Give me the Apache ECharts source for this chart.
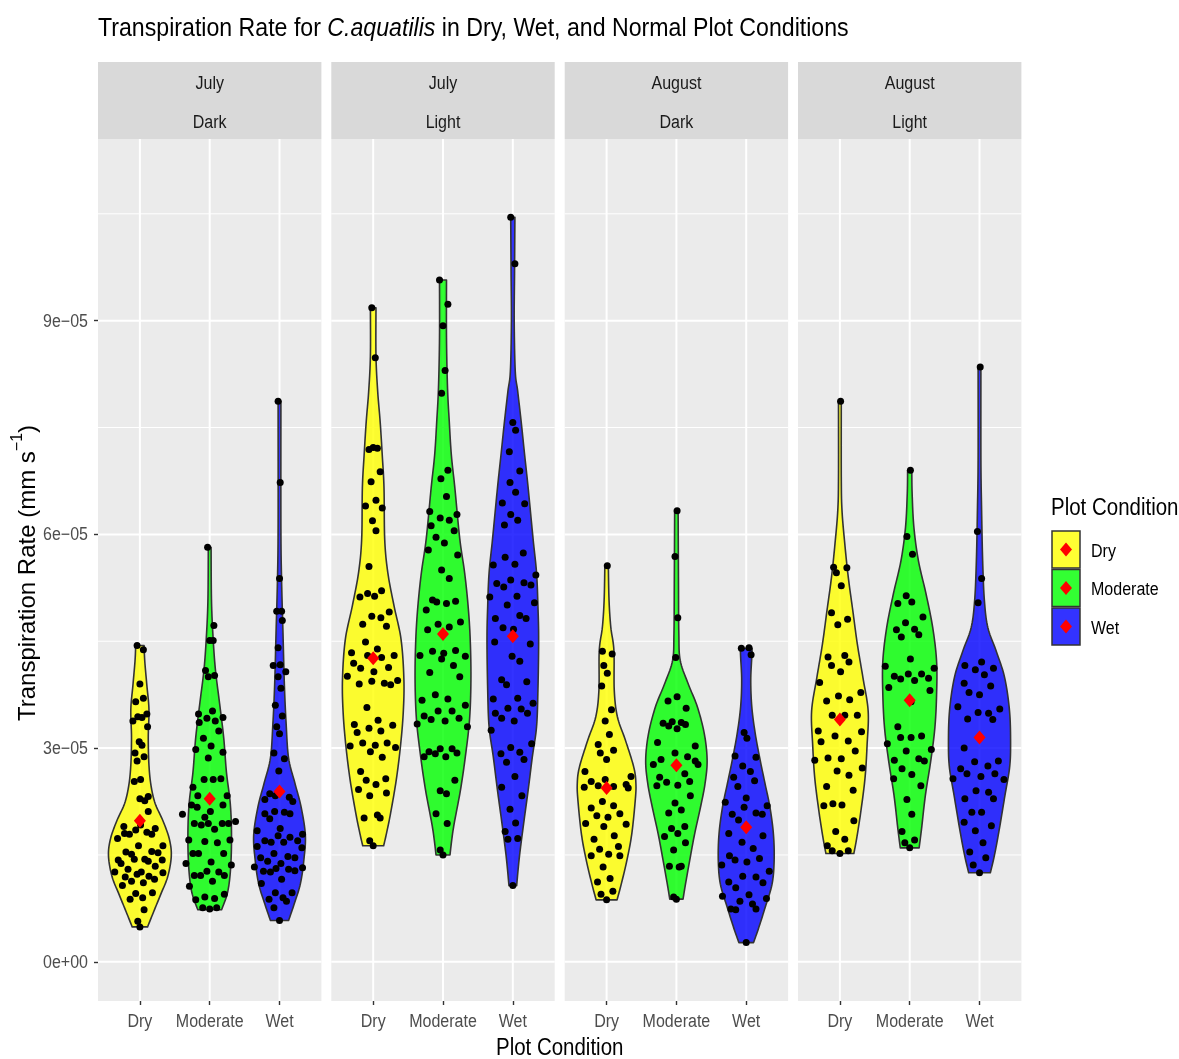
<!DOCTYPE html>
<html>
<head>
<meta charset="utf-8">
<script src="https://cdn.jsdelivr.net/npm/echarts@6/dist/echarts.min.js"></script>
<style>
  html, body { margin: 0; padding: 0; background: #ffffff; }
  #chart { width: 1179px; height: 1059px; }
</style>
</head>
<body>
<div id="chart"></div>
<script>
// Transpiration rate of C. aquatilis, faceted by month and light period.
// All rate values are in units of 1e-5 mm s^-1.

const CONDITIONS = ['Dry', 'Moderate', 'Wet'];
const FACETS = [['July', 'Dark'], ['July', 'Light'], ['August', 'Dark'], ['August', 'Light']];

const Y_TICKS = [0, 3, 6, 9];
const Y_TICK_LABELS = ['0e+00', '3e\u221205', '6e\u221205', '9e\u221205'];
const Y_MINOR = [1.5, 4.5, 7.5, 10.5];

// Group means (red diamonds)
const MEAN_JULY_DARK = [1.98, 2.29, 2.39];
const MEAN_JULY_LIGHT = [4.26, 4.60, 4.57];
const MEAN_AUG_DARK = [2.44, 2.76, 1.89];
const MEAN_AUG_LIGHT = [3.40, 3.67, 3.15];

// Violin outlines: [rate, half width in category units], bottom to top
const VIO_JULY_DARK_DRY = [[0.49,0.11],[0.71,0.20],[0.95,0.30],[1.20,0.40],[1.49,0.45],[1.73,0.42],[1.98,0.33],[2.22,0.22],[2.47,0.16],[2.76,0.13],[3.15,0.12],[3.54,0.13],[3.88,0.10],[4.22,0.07],[4.44,0.06]];
const VIO_JULY_DARK_MOD = [[0.73,0.17],[0.95,0.25],[1.20,0.29],[1.54,0.31],[1.93,0.31],[2.27,0.29],[2.66,0.24],[3.15,0.20],[3.64,0.14],[4.12,0.08],[4.61,0.045],[5.10,0.025],[5.82,0.02]];
const VIO_JULY_DARK_WET = [[0.58,0.13],[0.81,0.21],[1.10,0.30],[1.44,0.35],[1.78,0.37],[2.17,0.31],[2.51,0.22],[2.86,0.13],[3.34,0.095],[3.88,0.07],[4.61,0.05],[5.34,0.03],[6.08,0.02],[7.87,0.02]];
const VIO_JULY_LIGHT_DRY = [[1.63,0.15],[1.80,0.19],[2.09,0.25],[2.55,0.33],[3.02,0.39],[3.49,0.43],[3.96,0.44],[4.52,0.40],[4.99,0.30],[5.46,0.21],[5.93,0.165],[6.65,0.155],[7.11,0.13],[7.58,0.10],[8.00,0.065],[8.50,0.04],[9.18,0.04]];
const VIO_JULY_LIGHT_MOD = [[1.50,0.10],[1.71,0.125],[1.94,0.16],[2.41,0.25],[2.88,0.32],[3.40,0.38],[3.96,0.40],[4.52,0.39],[4.99,0.36],[5.46,0.31],[5.94,0.24],[6.65,0.17],[7.11,0.12],[7.58,0.09],[8.05,0.065],[8.76,0.05],[9.57,0.05]];
const VIO_JULY_LIGHT_WET = [[1.07,0.055],[1.48,0.095],[1.94,0.155],[2.41,0.22],[2.88,0.28],[3.30,0.34],[3.82,0.36],[4.52,0.37],[4.99,0.36],[5.46,0.34],[5.94,0.29],[6.65,0.22],[7.11,0.17],[7.58,0.12],[8.01,0.07],[8.29,0.035],[8.99,0.02],[9.69,0.025],[10.45,0.03]];
const VIO_AUG_DARK_DRY = [[0.87,0.15],[1.09,0.21],[1.42,0.29],[1.79,0.36],[2.26,0.41],[2.50,0.42],[2.73,0.39],[3.11,0.27],[3.44,0.155],[3.81,0.11],[4.37,0.105],[4.70,0.06],[5.08,0.035],[5.56,0.025]];
const VIO_AUG_DARK_MOD = [[0.88,0.095],[1.09,0.13],[1.42,0.19],[1.79,0.26],[2.17,0.345],[2.50,0.41],[2.83,0.44],[3.20,0.40],[3.58,0.30],[3.90,0.17],[4.23,0.055],[4.61,0.035],[5.31,0.03],[6.33,0.025]];
const VIO_AUG_DARK_WET = [[0.27,0.105],[0.48,0.18],[0.76,0.27],[1.09,0.37],[1.42,0.40],[1.79,0.39],[2.17,0.34],[2.50,0.27],[2.83,0.20],[3.20,0.13],[3.58,0.08],[3.95,0.065],[4.28,0.08],[4.40,0.085]];
const VIO_AUG_LIGHT_DRY = [[1.52,0.20],[1.73,0.24],[2.11,0.30],[2.58,0.36],[3.05,0.39],[3.52,0.405],[3.99,0.33],[4.46,0.25],[4.93,0.185],[5.40,0.12],[5.87,0.07],[6.34,0.03],[6.81,0.02],[7.87,0.02]];
const VIO_AUG_LIGHT_MOD = [[1.60,0.135],[1.87,0.17],[2.34,0.225],[2.81,0.30],[3.28,0.36],[3.75,0.385],[4.22,0.385],[4.69,0.33],[5.16,0.235],[5.63,0.125],[6.10,0.06],[6.57,0.035],[6.90,0.03]];
const VIO_AUG_LIGHT_WET = [[1.25,0.155],[1.50,0.215],[1.87,0.285],[2.34,0.365],[2.72,0.43],[3.05,0.445],[3.52,0.43],[3.99,0.36],[4.36,0.24],[4.69,0.12],[5.07,0.07],[5.63,0.045],[6.34,0.03],[7.04,0.02],[8.35,0.02]];

// Individual observations: [horizontal jitter in category units, rate]
const PTS_JULY_DARK_DRY = [[-0.04,4.44],[0.05,4.38],[0,3.90],[-0.06,3.65],[0.05,3.70],[-0.10,3.38],[-0.03,3.44],[0.03,3.43],[0.10,3.48],[0.11,3.30],[-0.01,3.09],[0.03,3.04],[-0.07,2.93],[0.06,2.88],[-0.04,2.82],[-0.08,2.53],[0.01,2.56],[0,2.29],[0.07,2.26],[0.12,2.32],[0.12,2.11],[-0.23,1.90],[0.01,1.92],[-0.22,1.80],[-0.15,1.79],[-0.06,1.85],[0.10,1.82],[0.17,1.79],[0.22,1.87],[-0.32,1.73],[-0.02,1.63],[0.33,1.63],[-0.20,1.54],[-0.12,1.51],[0.17,1.55],[0.26,1.53],[-0.31,1.43],[-0.27,1.38],[-0.08,1.44],[0.07,1.44],[0.12,1.41],[0.32,1.43],[-0.17,1.30],[0.22,1.34],[-0.36,1.26],[-0.21,1.19],[-0.04,1.23],[0.02,1.26],[0.13,1.20],[0.21,1.16],[0.33,1.25],[-0.12,1.13],[0.05,1.11],[-0.25,1.07],[-0.06,0.96],[0.04,0.90],[0.18,0.97],[-0.14,0.88],[0.06,0.73],[-0.03,0.57],[0,0.49]];
const PTS_JULY_DARK_MOD = [[-0.03,5.82],[0.06,4.72],[0,4.51],[0.05,4.51],[-0.06,4.09],[-0.02,4.00],[0.07,4.02],[-0.16,3.48],[-0.15,3.36],[-0.04,3.42],[0.04,3.52],[0.08,3.38],[0.19,3.43],[0.13,3.24],[-0.09,3.14],[0.02,3.03],[-0.20,2.98],[0.19,2.94],[-0.02,2.86],[-0.08,2.56],[0.05,2.56],[0.16,2.57],[-0.24,2.45],[0.25,2.33],[-0.17,2.33],[-0.26,2.20],[-0.18,2.17],[0.19,2.20],[0.01,2.11],[-0.39,2.07],[-0.07,2.03],[-0.22,1.94],[-0.12,1.92],[-0.02,1.94],[0.07,1.86],[0.18,1.94],[0.27,1.94],[0.37,1.97],[-0.30,1.71],[-0.07,1.69],[0.11,1.67],[0.29,1.71],[-0.24,1.52],[-0.16,1.52],[0.20,1.52],[0.02,1.40],[-0.34,1.38],[0.31,1.36],[-0.04,1.27],[-0.22,1.21],[-0.13,1.21],[0.13,1.26],[0.21,1.21],[0.04,1.13],[-0.29,1.06],[0.21,0.95],[-0.07,0.91],[0.07,0.89],[-0.20,0.87],[-0.10,0.76],[0,0.74],[0.10,0.76]];
const PTS_JULY_DARK_WET = [[-0.02,7.87],[0.01,6.73],[0,5.38],[-0.04,4.92],[0.03,4.92],[0.04,4.79],[-0.02,4.41],[-0.09,4.16],[0.01,4.17],[0.09,4.07],[-0.02,4.00],[0.02,3.84],[-0.06,3.60],[0.04,3.45],[-0.04,3.30],[0,3.20],[-0.08,2.93],[0.07,2.85],[-0.01,2.68],[-0.21,2.28],[-0.14,2.36],[-0.06,2.33],[0.14,2.31],[0.19,2.25],[-0.21,2.08],[-0.14,2.01],[-0.07,2.11],[0.07,2.10],[0.15,2.08],[0.01,1.87],[-0.02,1.77],[-0.32,1.84],[0.33,1.79],[-0.21,1.70],[-0.12,1.68],[0.06,1.68],[0.15,1.75],[0.26,1.70],[-0.32,1.62],[0.32,1.60],[-0.08,1.52],[0.12,1.48],[0.22,1.46],[-0.27,1.46],[-0.17,1.41],[0.02,1.38],[-0.36,1.33],[-0.23,1.27],[-0.13,1.26],[-0.05,1.31],[0.13,1.30],[0.22,1.28],[0.33,1.32],[-0.26,1.10],[0.03,1.16],[-0.06,0.97],[0.18,0.97],[-0.15,0.88],[0.05,0.90],[0.10,0.85],[-0.08,0.76],[0,0.58]];
const PTS_JULY_LIGHT_DRY = [[-0.02,9.18],[0.03,8.48],[-0.06,7.19],[0,7.22],[0.06,7.21],[0.10,6.88],[-0.03,6.74],[0.04,6.48],[-0.11,6.40],[0.13,6.37],[-0.01,6.19],[0.04,6.05],[-0.06,5.55],[-0.19,5.12],[-0.08,5.17],[0.02,5.13],[0.12,5.21],[0.23,4.91],[-0.02,4.85],[0.11,4.83],[-0.15,4.74],[0.19,4.71],[-0.11,4.49],[0.06,4.39],[-0.31,4.34],[-0.08,4.30],[0.12,4.27],[0.30,4.30],[-0.28,4.19],[-0.18,4.12],[0.01,4.07],[0.22,4.13],[-0.37,4.01],[-0.20,3.90],[-0.02,3.94],[0.16,3.91],[0.25,3.89],[0.35,3.95],[-0.09,3.57],[-0.27,3.33],[0.07,3.39],[-0.23,3.22],[-0.06,3.28],[0.11,3.24],[0.28,3.32],[-0.33,3.03],[-0.15,3.07],[0.03,3.04],[0.20,3.07],[0.32,3.01],[-0.04,2.95],[0.13,2.87],[-0.18,2.67],[-0.10,2.55],[0.04,2.49],[0.18,2.57],[-0.21,2.42],[-0.05,2.33],[0.19,2.37],[-0.13,2.02],[0.06,2.06],[0.10,2.02],[-0.05,1.70],[0,1.63]];
const PTS_JULY_LIGHT_MOD = [[-0.05,9.57],[0.07,9.23],[0,8.93],[0.03,8.30],[-0.02,7.98],[0.07,6.90],[-0.03,6.78],[0.05,6.53],[-0.19,6.32],[-0.04,6.23],[0.09,6.20],[0.20,6.28],[-0.17,6.12],[0.16,6.05],[-0.10,5.96],[0.02,5.88],[-0.21,5.78],[0.21,5.71],[-0.02,5.50],[0.09,5.38],[-0.15,5.08],[-0.09,5.05],[0.05,5.03],[0.18,5.06],[-0.24,4.94],[0.25,4.77],[-0.07,4.74],[0.09,4.70],[-0.22,4.66],[-0.33,4.30],[-0.15,4.36],[0.01,4.33],[-0.02,4.25],[0.18,4.37],[0.32,4.29],[0.15,4.16],[-0.19,4.06],[0.24,4.00],[-0.11,3.75],[0.07,3.69],[-0.30,3.67],[0.32,3.60],[-0.07,3.52],[0.13,3.52],[-0.27,3.45],[-0.17,3.40],[0.03,3.38],[0.23,3.42],[-0.37,3.34],[0.35,3.30],[-0.20,2.95],[-0.27,2.88],[-0.11,2.92],[-0.04,2.99],[0.13,2.99],[0.20,2.93],[0.04,2.88],[0.17,2.55],[-0.04,2.40],[0.05,2.36],[-0.10,2.08],[0.06,1.94],[-0.04,1.57],[0,1.50]];
const PTS_JULY_LIGHT_WET = [[-0.03,10.45],[0.03,9.80],[0,7.57],[0.04,7.46],[-0.05,7.16],[0.10,6.89],[-0.04,6.73],[0.04,6.59],[-0.15,6.44],[0.17,6.43],[-0.03,6.28],[0.07,6.20],[-0.12,6.13],[-0.11,5.68],[0.15,5.74],[-0.28,5.57],[0.03,5.58],[0.33,5.43],[-0.23,5.31],[-0.13,5.26],[-0.03,5.36],[0.16,5.32],[0.26,5.29],[-0.33,5.12],[-0.08,5.01],[0.31,5.04],[0.06,5.13],[-0.25,4.82],[-0.14,4.69],[0.10,4.86],[0.19,4.82],[0.01,4.67],[-0.26,4.49],[0.25,4.46],[-0.01,4.29],[0.10,4.22],[-0.16,3.96],[-0.09,3.89],[0.20,3.93],[-0.28,3.69],[0.07,3.70],[0.29,3.63],[-0.25,3.49],[-0.07,3.56],[0.12,3.55],[0.21,3.49],[-0.16,3.42],[0.02,3.38],[-0.31,3.25],[-0.03,3.01],[0.27,3.06],[-0.17,2.92],[0.10,2.94],[-0.09,2.80],[0.16,2.84],[0.03,2.60],[-0.16,2.45],[0.13,2.33],[-0.04,2.14],[0.04,1.95],[-0.11,1.83],[-0.07,1.72],[0.07,1.73],[0,1.07]];
const PTS_AUG_DARK_DRY = [[0.01,5.56],[-0.06,4.36],[0.08,4.32],[-0.04,4.16],[0.01,4.05],[-0.07,3.87],[0.07,3.54],[-0.02,3.38],[0.04,3.19],[-0.12,3.05],[-0.09,2.93],[0.10,2.97],[0,2.84],[-0.31,2.67],[-0.22,2.53],[-0.02,2.56],[0.35,2.60],[-0.32,2.45],[-0.12,2.47],[0.10,2.46],[0.28,2.49],[0.31,2.44],[-0.06,2.25],[0.10,2.19],[-0.22,2.16],[-0.14,2.05],[0.02,2.03],[0.19,2.08],[-0.30,1.94],[-0.04,1.90],[0.28,1.93],[0.11,1.77],[-0.18,1.72],[-0.10,1.58],[0.17,1.62],[-0.22,1.49],[0.03,1.51],[0.19,1.49],[-0.05,1.33],[-0.13,1.12],[0.05,1.17],[-0.08,0.95],[0.09,0.99],[0,0.87]];
const PTS_AUG_DARK_MOD = [[0.01,6.33],[-0.02,5.69],[0.02,4.83],[-0.01,4.27],[-0.12,3.66],[0.01,3.72],[0.14,3.56],[-0.19,3.35],[-0.11,3.31],[-0.06,3.37],[0.01,3.27],[0.07,3.36],[0.13,3.33],[-0.27,3.08],[0.27,3.03],[-0.22,2.84],[-0.02,2.93],[0.16,2.88],[0.27,2.82],[-0.33,2.77],[0.31,2.77],[-0.24,2.59],[0.12,2.64],[-0.28,2.47],[-0.14,2.52],[0.02,2.48],[0.19,2.53],[0.20,2.33],[-0.02,2.23],[0.07,2.13],[-0.11,2.09],[-0.07,1.87],[0.02,1.80],[0.12,1.90],[-0.17,1.76],[0.13,1.67],[-0.04,1.57],[-0.10,1.34],[0.04,1.33],[0.07,1.34],[-0.04,0.91],[0,0.88]];
const PTS_AUG_DARK_WET = [[-0.07,4.40],[0.04,4.41],[0.07,4.31],[-0.03,3.22],[0.01,3.14],[-0.16,2.89],[0.14,2.87],[-0.05,2.75],[0.06,2.67],[-0.18,2.59],[0.12,2.54],[-0.12,2.46],[0,2.30],[-0.30,2.24],[-0.03,2.17],[0.30,2.19],[-0.20,2.07],[0.14,2.09],[0.23,2.07],[-0.11,1.99],[-0.25,1.80],[-0.06,1.68],[0.24,1.77],[0.10,1.59],[0.19,1.45],[-0.24,1.49],[-0.16,1.43],[0.01,1.40],[-0.35,1.36],[0.33,1.27],[-0.05,1.20],[0.14,1.19],[-0.25,1.12],[0.24,1.11],[-0.15,1.04],[0.04,0.94],[-0.34,0.92],[-0.09,0.85],[0.29,0.89],[-0.22,0.74],[-0.15,0.73],[0.09,0.81],[0.14,0.74],[0,0.27]];
const PTS_AUG_LIGHT_DRY = [[0.01,7.87],[-0.09,5.54],[-0.05,5.46],[0.10,5.53],[0.02,5.28],[-0.12,4.90],[-0.03,4.73],[0.11,4.81],[-0.17,4.28],[0.07,4.30],[-0.12,4.16],[0.13,4.21],[0.01,4.07],[-0.29,3.92],[0.30,3.78],[-0.02,3.73],[-0.19,3.66],[0.14,3.68],[-0.11,3.46],[0.07,3.46],[0.25,3.46],[-0.31,3.24],[0.31,3.23],[-0.27,3.09],[-0.07,3.17],[0.12,3.10],[0.22,2.96],[-0.36,2.83],[-0.17,2.86],[0.02,2.85],[0.32,2.72],[-0.04,2.68],[0.13,2.62],[-0.19,2.46],[0.19,2.41],[-0.23,2.19],[-0.10,2.22],[0.03,2.20],[0.20,1.98],[-0.06,1.83],[0.07,1.72],[-0.18,1.63],[-0.11,1.56],[0,1.52],[0.12,1.56]];
const PTS_AUG_LIGHT_MOD = [[0.01,6.90],[-0.04,5.97],[0.04,5.72],[-0.17,5.03],[-0.05,5.14],[0.03,5.05],[0.19,4.84],[-0.19,4.66],[-0.06,4.76],[0.07,4.67],[-0.12,4.56],[0.13,4.59],[0.01,4.25],[-0.35,4.15],[0.35,4.12],[-0.22,4.01],[-0.13,3.97],[-0.02,4.04],[0.07,3.95],[0.17,4.04],[0.27,3.98],[-0.30,3.85],[0.29,3.81],[0.02,3.65],[-0.17,3.30],[-0.13,3.15],[0.02,3.15],[0.17,3.17],[-0.32,3.06],[-0.05,2.96],[0.31,2.98],[0.13,2.85],[0.21,2.82],[-0.22,2.83],[-0.11,2.71],[0.03,2.63],[-0.23,2.57],[0.16,2.47],[-0.04,2.28],[0.03,2.07],[-0.11,1.83],[-0.07,1.67],[0.07,1.71],[0,1.60]];
const PTS_AUG_LIGHT_WET = [[0.01,8.35],[-0.03,6.04],[0.03,5.38],[-0.02,5.04],[-0.21,4.16],[-0.06,4.10],[0.03,4.21],[0.20,4.12],[0.07,4.03],[-0.22,3.91],[0.16,3.87],[-0.15,3.78],[0,3.75],[-0.31,3.58],[0.29,3.55],[-0.17,3.41],[-0.02,3.50],[0.13,3.49],[0.19,3.40],[-0.22,3.00],[-0.07,2.81],[0.12,2.75],[0.27,2.82],[-0.27,2.71],[-0.18,2.64],[0.02,2.60],[0.22,2.64],[-0.38,2.57],[0.35,2.56],[-0.05,2.40],[0.13,2.38],[0.20,2.29],[-0.21,2.29],[-0.11,2.10],[0.03,2.10],[-0.22,1.96],[0.17,1.91],[-0.06,1.84],[0.05,1.67],[-0.14,1.54],[0.09,1.46],[-0.09,1.36],[0,1.25]];

const FACET_MEANS = [MEAN_JULY_DARK, MEAN_JULY_LIGHT, MEAN_AUG_DARK, MEAN_AUG_LIGHT];
const FACET_VIOLINS = [
  [VIO_JULY_DARK_DRY, VIO_JULY_DARK_MOD, VIO_JULY_DARK_WET],
  [VIO_JULY_LIGHT_DRY, VIO_JULY_LIGHT_MOD, VIO_JULY_LIGHT_WET],
  [VIO_AUG_DARK_DRY, VIO_AUG_DARK_MOD, VIO_AUG_DARK_WET],
  [VIO_AUG_LIGHT_DRY, VIO_AUG_LIGHT_MOD, VIO_AUG_LIGHT_WET]
];
const FACET_POINTS = [
  [PTS_JULY_DARK_DRY, PTS_JULY_DARK_MOD, PTS_JULY_DARK_WET],
  [PTS_JULY_LIGHT_DRY, PTS_JULY_LIGHT_MOD, PTS_JULY_LIGHT_WET],
  [PTS_AUG_DARK_DRY, PTS_AUG_DARK_MOD, PTS_AUG_DARK_WET],
  [PTS_AUG_LIGHT_DRY, PTS_AUG_LIGHT_MOD, PTS_AUG_LIGHT_WET]
];

// ---- layout and style ----
const SANS = "'Liberation Sans', Arial, Helvetica, sans-serif";
const CONDENSE = 0.89;   // horizontal squeeze for the condensed Helvetica look
const FILLS = ['rgba(255,255,0,0.8)', 'rgba(0,255,0,0.8)', 'rgba(0,0,255,0.8)'];
const X_MIN = 0.4, X_MAX = 3.6;
const Y_MIN = -0.55, Y_MAX = 11.55;
const PANEL_LEFT = [98, 331.3, 564.7, 798];
const PANEL_W = 223.4;
const PANEL_TOP = 139;
const PANEL_H = 862;

// Catmull-Rom smoothing of an outline given in pixel space
function smoothPath(pts, steps) {
  const out = [];
  const n = pts.length;
  for (let i = 0; i < n - 1; i++) {
    const p0 = pts[Math.max(i - 1, 0)], p1 = pts[i], p2 = pts[i + 1], p3 = pts[Math.min(i + 2, n - 1)];
    for (let s = 0; s < steps; s++) {
      const t = s / steps, t2 = t * t, t3 = t2 * t;
      const q = [0, 1].map(d => 0.5 * ((2 * p1[d]) + (-p0[d] + p2[d]) * t +
        (2 * p0[d] - 5 * p1[d] + 4 * p2[d] - p3[d]) * t2 +
        (-p0[d] + 3 * p1[d] - 3 * p2[d] + p3[d]) * t3));
      out.push(q);
    }
  }
  out.push(pts[n - 1]);
  return out;
}

function condensedText(x, y, text, size, color, align, extra) {
  return Object.assign({
    type: 'text', x: x, y: y, scaleX: CONDENSE, silent: true,
    style: {
      x: 0, y: 0, text: text, fill: color,
      fontSize: size, fontFamily: SANS,
      textAlign: align, align: align,
      textVerticalAlign: 'middle', verticalAlign: 'middle'
    }
  }, extra || {});
}

const grids = [], xAxes = [], yAxes = [], series = [];

FACETS.forEach((facet, p) => {
  grids.push({
    left: PANEL_LEFT[p], top: PANEL_TOP, width: PANEL_W, height: PANEL_H,
    show: true, backgroundColor: '#EBEBEB', borderWidth: 0, containLabel: false
  });
  xAxes.push({
    type: 'value', gridIndex: p, min: X_MIN, max: X_MAX,
    axisLine: { show: false, onZero: false }, splitLine: { show: false },
    axisTick: { show: true, customValues: [1, 2, 3], length: 4, lineStyle: { color: '#333333', width: 1.4 } },
    axisLabel: { show: false }
  });
  yAxes.push({
    type: 'value', gridIndex: p, min: Y_MIN, max: Y_MAX,
    axisLine: { show: false, onZero: false }, splitLine: { show: false },
    axisTick: { show: p === 0, customValues: Y_TICKS, length: 4, lineStyle: { color: '#333333', width: 1.4 } },
    axisLabel: { show: false }
  });

  // panel grid lines
  const gridData = [];
  Y_TICKS.forEach(v => gridData.push([0, v, 1]));
  Y_MINOR.forEach(v => gridData.push([0, v, 0]));
  [1, 2, 3].forEach(x => gridData.push([1, x, 1]));
  series.push({
    type: 'custom', xAxisIndex: p, yAxisIndex: p, silent: true, z: 1, clip: false,
    data: gridData,
    renderItem: (params, api) => {
      const o = api.value(0), v = api.value(1), major = api.value(2);
      let a, b;
      if (o === 0) { a = api.coord([X_MIN, v]); b = api.coord([X_MAX, v]); }
      else { a = api.coord([v, Y_MIN]); b = api.coord([v, Y_MAX]); }
      return {
        type: 'line',
        shape: { x1: a[0], y1: a[1], x2: b[0], y2: b[1] },
        style: { stroke: '#FFFFFF', lineWidth: major ? 2 : 1 }
      };
    }
  });

  // category tick labels under each panel
  series.push({
    type: 'custom', xAxisIndex: p, yAxisIndex: p, silent: true, z: 5, clip: false,
    data: CONDITIONS.map((c, i) => [i + 1, Y_MIN]),
    renderItem: (params, api) => {
      const pt = api.coord([api.value(0), api.value(1)]);
      return condensedText(pt[0], pt[1] + 21, CONDITIONS[params.dataIndex], 18, '#4D4D4D', 'center');
    }
  });

  // rate tick labels on the first panel
  if (p === 0) {
    series.push({
      type: 'custom', xAxisIndex: p, yAxisIndex: p, silent: true, z: 5, clip: false,
      data: Y_TICKS.map(v => [X_MIN, v]),
      renderItem: (params, api) => {
        const pt = api.coord([api.value(0), api.value(1)]);
        return condensedText(pt[0] - 10, pt[1] + 1, Y_TICK_LABELS[params.dataIndex], 18, '#4D4D4D', 'right');
      }
    });
  }

  // violins
  CONDITIONS.forEach((cond, c) => {
    const prof = FACET_VIOLINS[p][c];
    series.push({
      type: 'custom', name: cond, xAxisIndex: p, yAxisIndex: p, silent: true, z: 2, clip: false,
      data: [[c + 1, prof[0][0]]],
      renderItem: (params, api) => {
        const cx = api.value(0);
        const left = prof.map(([v, hw]) => api.coord([cx - hw, v]));
        const right = prof.map(([v, hw]) => api.coord([cx + hw, v]));
        const L = smoothPath(left, 10);
        const R = smoothPath(right, 10).reverse();
        return {
          type: 'polygon',
          shape: { points: L.concat(R) },
          style: { fill: FILLS[c], stroke: '#333333', lineWidth: 1.6, lineJoin: 'round' }
        };
      }
    });
  });

  // observations
  const pts = [];
  CONDITIONS.forEach((cond, c) => {
    FACET_POINTS[p][c].forEach(([dx, v]) => pts.push([c + 1 + dx, v]));
  });
  series.push({
    type: 'scatter', xAxisIndex: p, yAxisIndex: p, silent: true, z: 3,
    data: pts, symbol: 'circle', symbolSize: 7,
    itemStyle: { color: '#000000', opacity: 1 }
  });

  // group means
  series.push({
    type: 'scatter', xAxisIndex: p, yAxisIndex: p, silent: true, z: 4,
    data: FACET_MEANS[p].map((m, c) => [c + 1, m]),
    symbol: 'diamond', symbolSize: [12, 14],
    itemStyle: { color: '#FF0000', opacity: 1 }
  });
});

// facet strips, titles, legend
const graphics = [];
FACETS.forEach((facet, p) => {
  const cx = PANEL_LEFT[p] + PANEL_W / 2;
  graphics.push({
    type: 'rect', silent: true,
    shape: { x: PANEL_LEFT[p], y: 62, width: PANEL_W, height: 77 },
    style: { fill: '#D9D9D9' }
  });
  graphics.push(condensedText(cx, 84, facet[0], 18, '#1A1A1A', 'center'));
  graphics.push(condensedText(cx, 123, facet[1], 18, '#1A1A1A', 'center'));
});

graphics.push({
  type: 'text', silent: true, x: 98, y: 29, scaleX: CONDENSE,
  style: {
    x: 0, y: 0, textAlign: 'left', textVerticalAlign: 'middle',
    text: '{n|Transpiration Rate for }{i|C.aquatilis}{n| in Dry, Wet, and Normal Plot Conditions}',
    rich: {
      n: { fontSize: 26, fontFamily: SANS, fill: '#000000', color: '#000000' },
      i: { fontSize: 26, fontFamily: SANS, fontStyle: 'italic', fill: '#000000', color: '#000000' }
    }
  }
});

graphics.push({
  type: 'text', silent: true, x: 25, y: 573, rotation: Math.PI / 2,
  style: {
    x: 0, y: 0, textAlign: 'center', textVerticalAlign: 'middle',
    text: '{n|Transpiration Rate (mm s}{s|\u22121}{n|)}',
    rich: {
      n: { fontSize: 24, fontFamily: SANS, fill: '#000000', color: '#000000', verticalAlign: 'bottom', lineHeight: 30 },
      s: { fontSize: 16, fontFamily: SANS, fill: '#000000', color: '#000000', verticalAlign: 'top', lineHeight: 30 }
    }
  }
});

graphics.push(condensedText((PANEL_LEFT[0] + PANEL_LEFT[3] + PANEL_W) / 2, 1049, 'Plot Condition', 23, '#000000', 'center'));

// legend
graphics.push(condensedText(1051, 509, 'Plot Condition', 23, '#000000', 'left'));
CONDITIONS.forEach((cond, c) => {
  const y0 = 531 + c * 38.5;
  graphics.push({
    type: 'rect', silent: true,
    shape: { x: 1052, y: y0, width: 28, height: 37 },
    style: { fill: FILLS[c], stroke: '#333333', lineWidth: 1.5 }
  });
  graphics.push({
    type: 'polygon', silent: true,
    shape: { points: [[1066, y0 + 11.5], [1072, y0 + 18.5], [1066, y0 + 25.5], [1060, y0 + 18.5]] },
    style: { fill: '#FF0000' }
  });
  graphics.push(condensedText(1091, y0 + 21, cond, 18, '#000000', 'left'));
});

const chart = echarts.init(document.getElementById('chart'), null, { renderer: 'canvas' });
chart.setOption({
  animation: false,
  backgroundColor: '#FFFFFF',
  grid: grids,
  xAxis: xAxes,
  yAxis: yAxes,
  series: series,
  graphic: { elements: graphics }
});
</script>
</body>
</html>
